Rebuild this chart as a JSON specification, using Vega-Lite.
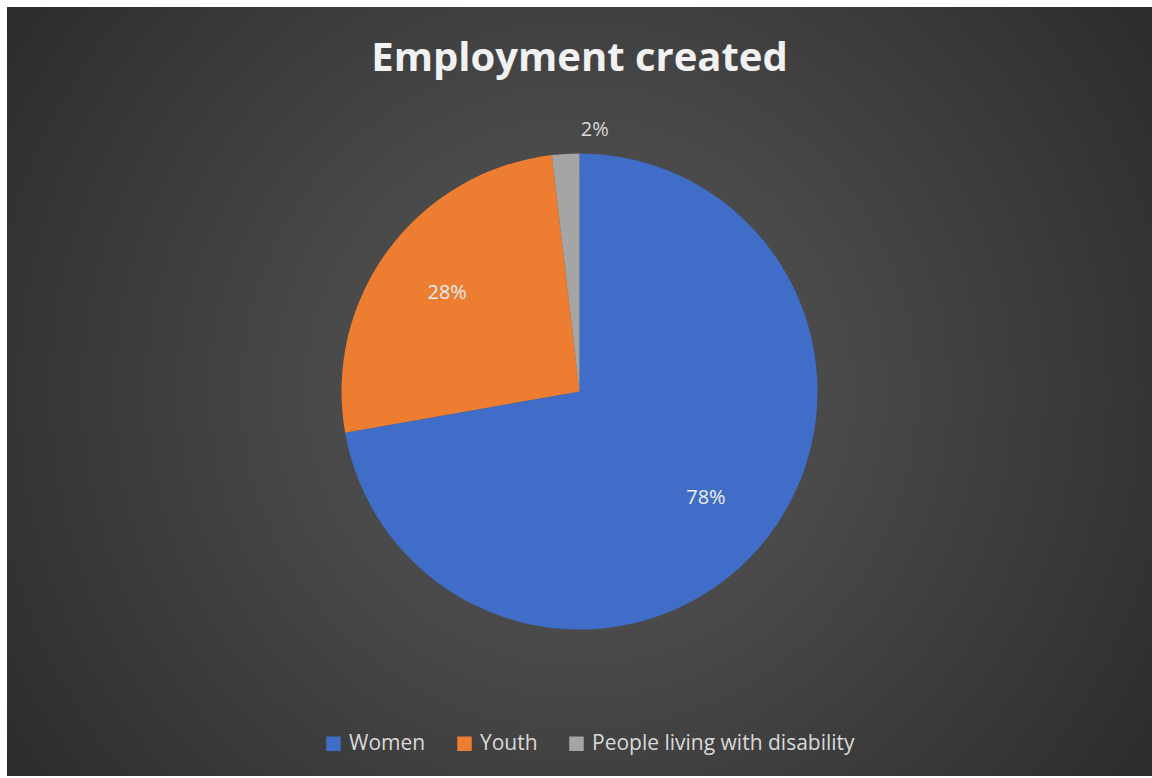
{
  "$schema": "https://vega.github.io/schema/vega-lite/v6.json",
  "width": 1152,
  "height": 778,
  "autosize": {"type": "fit", "contains": "padding"},
  "padding": {"left": 7, "top": 7, "right": 0, "bottom": 2},
  "background": "#ffffff",
  "config": {"view": {"stroke": null}},
  "title": {
    "text": "Employment created",
    "font": "Open Sans",
    "fontSize": 40,
    "fontWeight": "bold",
    "color": "#f2f2f2",
    "anchor": "middle",
    "offset": -72
  },
  "data": {
    "values": [
      {"category": "Women", "value": 78, "label": "78%", "order": 1},
      {"category": "Youth", "value": 28, "label": "28%", "order": 2},
      {"category": "People living with disability", "value": 2, "label": "2%", "order": 3}
    ]
  },
  "layer": [
    {
      "mark": {
        "type": "rect",
        "fill": {
          "gradient": "radial",
          "x1": 0.5, "y1": 0.5, "r1": 0,
          "x2": 0.5, "y2": 0.5, "r2": 0.72,
          "stops": [
            {"offset": 0, "color": "#5a5a5a"},
            {"offset": 1, "color": "#232323"}
          ]
        }
      },
      "encoding": {}
    },
    {
      "mark": {"type": "arc", "outerRadius": 238, "stroke": null},
      "encoding": {
        "theta": {"field": "value", "type": "quantitative", "stack": true},
        "order": {"field": "order", "type": "quantitative"},
        "color": {
          "field": "category",
          "type": "nominal",
          "sort": ["Women", "Youth", "People living with disability"],
          "scale": {
            "domain": ["Women", "Youth", "People living with disability"],
            "range": ["#3F6DC7", "#ED7D31", "#A5A5A5"]
          },
          "legend": {
            "title": null,
            "orient": "none",
            "direction": "horizontal",
            "legendX": 316,
            "legendY": 726,
            "symbolType": "square",
            "symbolSize": 210,
            "symbolStrokeWidth": 0,
            "labelFont": "Open Sans",
            "labelFontSize": 21,
            "labelColor": "#d9d9d9",
            "labelOffset": 5,
            "columnPadding": 28,
            "labelLimit": 400
          }
        }
      }
    },
    {
      "transform": [{"filter": "datum.category !== 'People living with disability'"}],
      "mark": {"type": "text", "radius": 165, "font": "Open Sans", "fontSize": 20, "color": "#eeeeee"},
      "encoding": {
        "theta": {"field": "value", "type": "quantitative", "stack": true},
        "order": {"field": "order", "type": "quantitative"},
        "text": {"field": "label"}
      }
    },
    {
      "transform": [{"filter": "datum.category === 'People living with disability'"}],
      "mark": {"type": "text", "radius": 262, "font": "Open Sans", "fontSize": 20, "color": "#d9d9d9"},
      "encoding": {
        "theta": {"field": "value", "type": "quantitative", "stack": true},
        "order": {"field": "order", "type": "quantitative"},
        "text": {"field": "label"}
      }
    }
  ]
}
